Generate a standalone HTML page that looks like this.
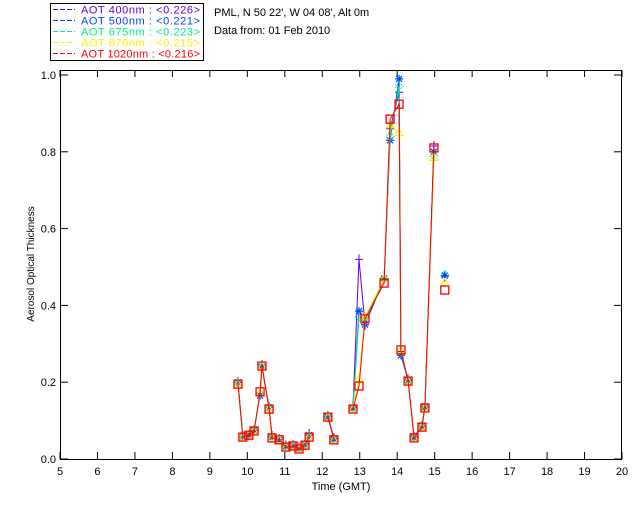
<!DOCTYPE html>
<html><head><meta charset="utf-8"><style>
body{margin:0;background:#fff;}
svg{display:block;font-family:"Liberation Sans","DejaVu Sans",sans-serif;}
</style></head><body>
<svg id="c" width="640" height="512" viewBox="0 0 640 512">
<rect width="640" height="512" fill="#fff"/>
<g>
<rect x="50.5" y="3.5" width="153" height="57" fill="#fff" stroke="#000"/>
</g>
<text x="214" y="16" font-size="11">PML, N 50 22', W 04 08', Alt 0m</text>
<text x="214" y="34" font-size="11">Data from: 01 Feb 2010</text>
<g id="plot"></g>
</svg>
<script>
const times=[9.75,9.88,10.04,10.18,10.34,10.39,10.58,10.66,10.85,11.03,11.22,11.38,11.54,11.65,12.15,12.31,12.82,12.98,13.14,13.65,13.81,14.05,14.1,14.29,14.45,14.66,14.74,14.98,15.27];
const segments=[0,0,0,0,0,0,0,0,0,0,0,0,0,0,1,1,2,2,2,2,2,2,2,2,2,2,2,2,3];
const aot400=[0.2,0.06,0.062,0.075,0.17,0.245,0.135,0.06,0.052,0.035,0.036,0.03,0.04,0.065,0.112,0.055,0.135,0.52,0.35,0.47,0.86,0.955,0.28,0.207,0.058,0.086,0.137,0.815,0.475];
const aot500=[0.2,0.06,0.062,0.075,0.165,0.24,0.135,0.058,0.05,0.033,0.035,0.028,0.038,0.062,0.11,0.052,0.133,0.385,0.35,0.47,0.83,0.99,0.27,0.205,0.056,0.085,0.135,0.8,0.478];
const aot675=[0.198,0.058,0.062,0.074,0.17,0.243,0.133,0.057,0.05,0.032,0.035,0.027,0.037,0.06,0.11,0.051,0.132,0.37,0.36,0.47,0.84,0.97,0.28,0.204,0.056,0.084,0.134,0.79,0.48];
const aot870=[0.196,0.057,0.062,0.073,0.172,0.242,0.131,0.056,0.05,0.031,0.034,0.026,0.036,0.058,0.109,0.05,0.131,0.21,0.37,0.47,0.87,0.85,0.285,0.203,0.055,0.083,0.133,0.785,0.46];
const aot1020=[0.195,0.057,0.062,0.073,0.175,0.242,0.13,0.055,0.05,0.031,0.034,0.026,0.036,0.057,0.109,0.05,0.13,0.19,0.365,0.458,0.885,0.924,0.284,0.203,0.055,0.083,0.133,0.81,0.44];
const seriesNames=["AOT  400nm : <0.226>","AOT  500nm : <0.221>","AOT  675nm : <0.223>","AOT  870nm : <0.215>","AOT 1020nm : <0.216>"];
const xTicks=[5,6,7,8,9,10,11,12,13,14,15,16,17,18,19,20];
const yTicks=[0,0.2,0.4,0.6,0.8,1.0];
const X0=60,X1=622,YT=70,YB=459;
function xs(h){return X0+(h-5)*(X1-X0)/15;}
function ys(v){return 459-v*384;}
const NS="http://www.w3.org/2000/svg";
const svg=document.getElementById('c');
const g=document.getElementById('plot');
function mk(t,a,p){const e=document.createElementNS(NS,t);for(const k in a)e.setAttribute(k,a[k]);(p||g).appendChild(e);return e;}
const colors=["#6600cc","#0044ff","#00ee88","#ffee00","#ff0000"];
const data=[aot400,aot500,aot675,aot870,aot1020];
const clip=mk('clipPath',{id:'cp'});mk('rect',{x:X0,y:YT,width:X1-X0,height:YB-YT},clip);
const fr=mk('rect',{x:X0+0.5,y:YT+0.5,width:X1-X0-1,height:YB-YT,fill:'none',stroke:'#000'});


xTicks.forEach(t=>{const x=xs(t);
 mk('line',{x1:x,x2:x,y1:YB,y2:YB-7,stroke:'#000'});mk('line',{x1:x,x2:x,y1:YT,y2:YT+7,stroke:'#000'});
 const l=mk('text',{x:x,y:YB+16,'font-size':11,'text-anchor':'middle'});l.textContent=t;
 
 });
yTicks.forEach(t=>{const y=ys(t);
 mk('line',{x1:X0,x2:X0+8,y1:y,y2:y,stroke:'#000'});mk('line',{x1:X1,x2:X1-8,y1:y,y2:y,stroke:'#000'});
 const l=mk('text',{x:X0-4,y:y+4,'font-size':11,'text-anchor':'end'});l.textContent=t.toFixed(1);
 
 });
const xt=mk('text',{x:341,y:490,'font-size':11,'text-anchor':'middle'});xt.textContent='Time (GMT)';


const yt=mk('text',{x:0,y:0,'font-size':10,'text-anchor':'middle',transform:'translate(34,264) rotate(-90)'});yt.textContent='Aerosol Optical Thickness';


const cg=mk('g',{'clip-path':'url(#cp)'});
data.forEach((vals,si)=>{const c=colors[si];
 const sg=mk('g',{},cg);
 
 
 let d='';for(let i=0;i<times.length;i++){const cmd=(i==0||segments[i]!=segments[i-1])?'M':'L';d+=cmd+xs(times[i]).toFixed(1)+','+ys(vals[i]).toFixed(1)+' ';}
 mk('path',{d:d,fill:'none',stroke:c,'stroke-width':1},sg);
 times.forEach((t,i)=>{const x=xs(t),y=ys(vals[i]);let m;
  if(si==0)m=mk('path',{d:`M${x-4},${y}H${x+4}M${x},${y-5}V${y+5}`,stroke:c,fill:'none'},sg);
  else if(si==1)m=mk('path',{d:`M${x-4},${y}H${x+4}M${x},${y-4}V${y+4}M${x-3},${y-3}L${x+3},${y+3}M${x-3},${y+3}L${x+3},${y-3}`,stroke:c,fill:'none','stroke-width':1.2},sg);
  else if(si==2)m=mk('path',{d:`M${x},${y-4}L${x+4},${y}L${x},${y+4}L${x-4},${y}Z`,stroke:c,fill:'none','stroke-dasharray':'1.5 1'},sg);
  else if(si==3)m=mk('path',{d:`M${x},${y-4}L${x+4},${y+3}L${x-4},${y+3}Z`,stroke:c,fill:'none'},sg);
  else m=mk('rect',{x:x-4,y:y-4,width:8,height:8,stroke:c,fill:'none','stroke-width':1.3},sg);
  
  });
});
seriesNames.forEach((n,i)=>{const y=9.5+i*11;
 mk('line',{x1:53,x2:75,y1:y,y2:y,stroke:colors[i],'stroke-dasharray':'5 2'},svg);
 const l=mk('text',{x:81,y:y+4,'font-size':11,fill:colors[i],'xml:space':'preserve',textLength:119,lengthAdjust:'spacing'},svg);l.textContent=n;
 
 });
</script>
</body></html>
